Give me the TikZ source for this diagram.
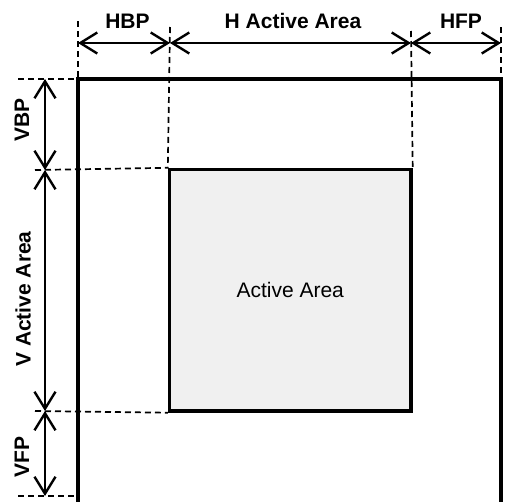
\documentclass[tikz,border=0pt]{standalone}
\usepackage{fontspec}
\setmainfont{Liberation Sans}
\usetikzlibrary{arrows.meta}
\begin{document}
\begin{tikzpicture}[x=1pt,y=-1pt,
  frame/.style={line width=3.4pt},
  guide/.style={line width=1.7pt,dash pattern=on 6pt off 4pt},
  dim/.style={line width=2.4pt,{Straight Barb[length=17pt,width=21pt]}-{Straight Barb[length=17pt,width=21pt]}},
  lbl/.style={font=\bfseries\fontsize{21}{24}\selectfont,inner sep=0pt},
  area/.style={draw,line width=3.4pt,fill=black!6,minimum width=241.5pt,minimum height=241.5pt,inner sep=0pt,font=\fontsize{21}{24}\selectfont}
]
\useasboundingbox (0,0) rectangle (509,501);
% outer frame
\coordinate (oBL) at (78,503);
\coordinate (oTL) at (78,79);
\coordinate (oTR) at (501,79);
\coordinate (oBR) at (501,503);
\draw[frame] (oBL) -- (oTL) -- (oTR) -- (oBR);
% inner active area
\node[area] (act) at (290.25,290.25) {Active Area};
% guide coordinates
\coordinate (g1) at (78,21);
\coordinate (g2) at (170,27);
\coordinate (g3) at (411,31);
\coordinate (g4) at (501,27);
\coordinate (h1) at (18,79);
\coordinate (h2) at (35,170);
\coordinate (h3) at (35,411);
\coordinate (h4) at (18,496);
\coordinate (h4e) at (78,496);
\draw[guide] (g1) -- (oTL);
\draw[guide] (g2) -- (act.north west);
\draw[guide] (g3) -- (act.north east);
\draw[guide] (g4) -- (oTR);
\draw[guide] (h1) -- (oTL);
\draw[guide] (h2) -- (act.north west);
\draw[guide] (h3) -- (act.south west);
\draw[guide] (h4) -- (h4e);
% dimension points
\coordinate (a1) at (78,43);
\coordinate (a2) at (170,43);
\coordinate (a3) at (411,43);
\coordinate (a4) at (501,43);
\coordinate (b1) at (45,79);
\coordinate (b2) at (45,170);
\coordinate (b3) at (45,411);
\coordinate (b4) at (45,496);
\draw[dim] (a1) -- (a2);
\draw[dim] (a2) -- (a3);
\draw[dim] (a3) -- (a4);
\draw[dim] (b1) -- (b2);
\draw[dim] (b2) -- (b3);
\draw[dim] (b3) -- (b4);
% labels
\node[lbl] (lhbp) at (127.5,21) {HBP};
\node[lbl] (lhact) at (293,21) {H Active Area};
\node[lbl] (lhfp) at (461,21) {HFP};
\node[lbl,rotate=90] (lvbp) at (22,120) {VBP};
\node[lbl,rotate=90] (lvact) at (23,299) {V Active Area};
\node[lbl,rotate=90] (lvfp) at (22,457) {VFP};
\end{tikzpicture}
\end{document}
